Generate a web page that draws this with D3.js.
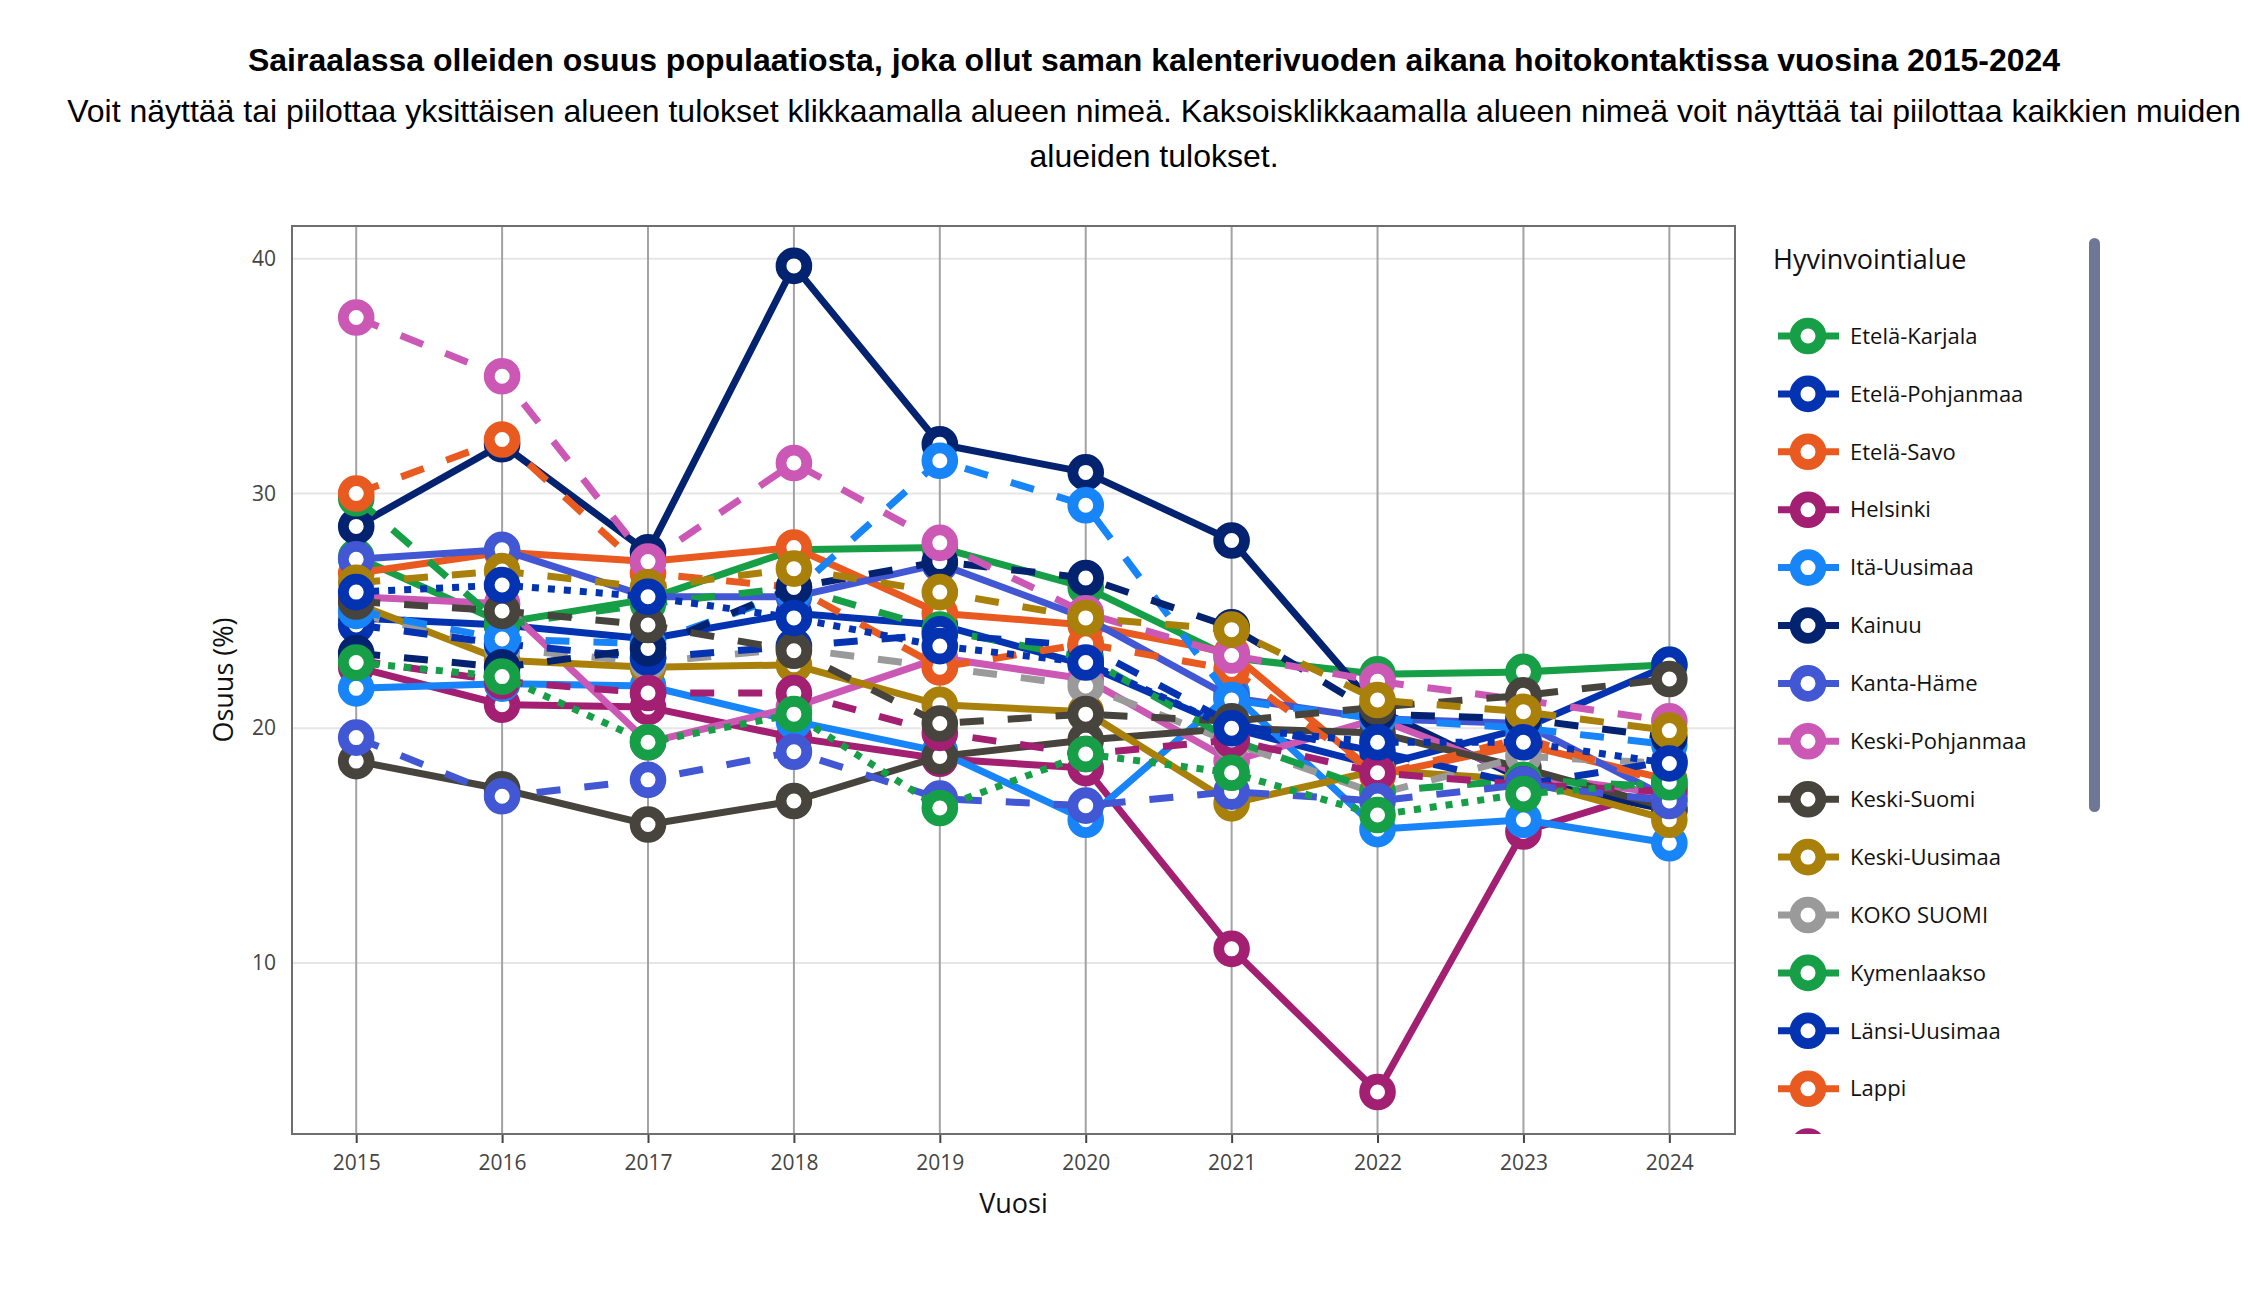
<!DOCTYPE html>
<html lang="fi">
<head>
<meta charset="UTF-8">
<title>Sairaalassa olleiden osuus populaatiosta</title>
<script src="https://d3js.org/d3.v7.min.js"></script>
<style>
  body { margin: 0; background: #fff; }
  svg text { font-family: "Open Sans", "Noto Sans", sans-serif; }
</style>
</head>
<body>
<svg width="2262" height="1302"></svg>
<script>
// years on the x axis
const years = [2015, 2016, 2017, 2018, 2019, 2020, 2021, 2022, 2023, 2024];
const yTicks = [10, 20, 30, 40];

// legend names, in legend order
const regionNames = [
  "Etelä-Karjala", "Etelä-Pohjanmaa", "Etelä-Savo", "Helsinki", "Itä-Uusimaa",
  "Kainuu", "Kanta-Häme", "Keski-Pohjanmaa", "Keski-Suomi", "Keski-Uusimaa",
  "KOKO SUOMI", "Kymenlaakso", "Länsi-Uusimaa", "Lappi", "Päijät-Häme",
  "Pirkanmaa", "Pohjanmaa", "Pohjois-Karjala", "Pohjois-Pohjanmaa", "Pohjois-Savo",
  "Satakunta", "Vantaa-Kerava", "Varsinais-Suomi"
];

// osuus (%) per year
const etelaKarjala     = [27.3, 24.5, 25.5, 27.6, 27.7, 26.0, 23.0, 22.3, 22.4, 22.7];
const etelaPohjanmaa   = [24.7, 24.4, 23.8, 24.9, 24.4, 22.7, 20.0, 18.4, 20.0, 22.7];
const etelaSavo        = [26.6, 27.5, 27.1, 27.7, 24.9, 24.4, 23.2, 18.0, 19.3, 17.8];
const helsinki         = [22.6, 21.0, 20.9, 19.6, 18.7, 18.3, 10.6, 4.5, 15.6, 17.5];
const itaUusimaa       = [21.7, 21.9, 21.8, 20.3, 19.0, 16.1, 21.5, 15.7, 16.1, 15.1];
const kainuu           = [28.6, 32.1, 27.5, 39.7, 32.1, 30.9, 28.0, 20.8, 17.8, 16.5];
const kantaHame        = [27.2, 27.6, 25.6, 25.6, 27.0, 24.7, 21.3, 20.4, 20.2, 17.0];
const keskiPohjanmaa   = [25.6, 25.3, 19.4, 20.9, 23.0, 22.1, 18.6, 20.4, 18.0, 17.2];
const keskiSuomi       = [18.6, 17.4, 15.9, 16.9, 18.8, 19.5, 20.0, 19.8, 18.3, 16.6];
const keskiUusimaa     = [25.3, 22.9, 22.6, 22.7, 21.0, 20.7, 16.8, 18.2, 17.8, 16.1];
const kokoSuomi        = [24.9, 23.4, 22.8, 23.4, 22.6, 21.8, 19.4, 17.2, 18.8, 18.5];
const kymenlaakso      = [29.8, 24.4, 25.3, 26.0, 24.2, 23.0, 19.5, 17.3, 17.8, 17.5];
const lansiUusimaa     = [24.4, 23.6, 23.0, 23.5, 24.0, 23.5, 20.2, 19.0, 17.6, 18.6];
const lappi            = [30.0, 32.3, 26.6, 26.0, 22.6, 23.6, 22.5, 18.0, 19.6, 17.6];
const paijatHame       = [22.9, 22.0, 21.5, 21.5, 19.8, 18.9, 19.5, 18.1, 17.6, 17.3];
const pirkanmaa        = [25.0, 23.8, 23.6, 25.8, 31.4, 29.5, 21.2, 20.4, 20.0, 19.3];
const pohjanmaa        = [23.2, 22.6, 23.4, 26.0, 27.1, 26.4, 24.3, 20.6, 20.4, 19.6];
const pohjoisKarjala   = [19.6, 17.1, 17.8, 19.0, 17.0, 16.7, 17.3, 16.9, 17.6, 16.9];
const pohjoisPohjanmaa = [37.5, 35.0, 27.1, 31.3, 27.9, 24.9, 23.1, 22.0, 21.2, 20.3];
const pohjoisSavo      = [25.4, 25.0, 24.4, 23.3, 20.2, 20.6, 20.3, 20.9, 21.4, 22.1];
const satakunta        = [26.2, 26.7, 26.0, 26.8, 25.8, 24.7, 24.2, 21.2, 20.7, 19.9];
const vantaaKerava     = [22.8, 22.2, 19.4, 20.6, 16.6, 18.9, 18.1, 16.3, 17.2, 17.7];
const varsinaisSuomi   = [25.8, 26.1, 25.6, 24.7, 23.5, 22.8, 20.0, 19.4, 19.4, 18.5];

const seriesValues = [
  etelaKarjala, etelaPohjanmaa, etelaSavo, helsinki, itaUusimaa,
  kainuu, kantaHame, keskiPohjanmaa, keskiSuomi, keskiUusimaa,
  kokoSuomi, kymenlaakso, lansiUusimaa, lappi, paijatHame,
  pirkanmaa, pohjanmaa, pohjoisKarjala, pohjoisPohjanmaa, pohjoisSavo,
  satakunta, vantaaKerava, varsinaisSuomi
];

// colours cycle over the regions, KOKO SUOMI is grey
const palette = ["#169f46", "#0433b2", "#e95a20", "#a21f72", "#1784f7",
                 "#032270", "#4257d4", "#cc58b5", "#47433d", "#a98009"];
const greyColour = "#9a9a9a";

function styleOf(i) {
  if (i === 10) return {color: greyColour, dash: "24,24"};
  if (i < 10) return {color: palette[i], dash: null};
  if (i < 21) return {color: palette[i - 11], dash: "24,24"};
  return {color: palette[i - 21], dash: "7,9"};
}

const width = 2262, height = 1302;
const plot = {left: 292, right: 1735, top: 226, bottom: 1134};

const svg = d3.select("svg");
svg.append("rect").attr("width", width).attr("height", height).attr("fill", "#fff");

const x = d3.scaleLinear().domain([2014.56, 2024.45]).range([plot.left, plot.right]);
const y = d3.scaleLinear().domain([2.71, 41.4]).range([plot.bottom, plot.top]);

// title
svg.append("text")
  .attr("x", 1154).attr("y", 71)
  .attr("text-anchor", "middle")
  .style("font-family", "'Liberation Sans', Arial, sans-serif")
  .style("font-weight", "bold")
  .style("font-size", "32px")
  .attr("fill", "#000")
  .text("Sairaalassa olleiden osuus populaatiosta, joka ollut saman kalenterivuoden aikana hoitokontaktissa vuosina 2015-2024");

const subLines = [
  "Voit näyttää tai piilottaa yksittäisen alueen tulokset klikkaamalla alueen nimeä. Kaksoisklikkaamalla alueen nimeä voit näyttää tai piilottaa kaikkien muiden",
  "alueiden tulokset."
];
subLines.forEach((t, i) => {
  svg.append("text")
    .attr("x", 1154).attr("y", 122 + i * 45)
    .attr("text-anchor", "middle")
    .style("font-family", "'Liberation Sans', Arial, sans-serif")
    .style("font-size", "32px")
    .attr("fill", "#000")
    .text(t);
});

// grid
const grid = svg.append("g");
grid.selectAll(".hgrid").data(yTicks).enter().append("line")
  .attr("x1", plot.left).attr("x2", plot.right)
  .attr("y1", d => y(d)).attr("y2", d => y(d))
  .attr("stroke", "#e6e6e6").attr("stroke-width", 2);
grid.selectAll(".vgrid").data(years).enter().append("line")
  .attr("x1", d => x(d)).attr("x2", d => x(d))
  .attr("y1", plot.top).attr("y2", plot.bottom)
  .attr("stroke", "#a3a3a3").attr("stroke-width", 2);

// axes
const xAxis = svg.append("g")
  .attr("transform", `translate(0,${plot.bottom})`)
  .call(d3.axisBottom(x).tickValues(years).tickFormat(d3.format("d")).tickSize(9).tickPadding(12));
xAxis.select(".domain").remove();
xAxis.selectAll("line").attr("stroke", "#444").attr("stroke-width", 2);
xAxis.selectAll("text").attr("fill", "#444").style("font-size", "21px");

const yAxis = svg.append("g")
  .attr("transform", `translate(${plot.left},0)`)
  .call(d3.axisLeft(y).tickValues(yTicks).tickSize(0).tickPadding(16));
yAxis.select(".domain").remove();
yAxis.selectAll("text").attr("fill", "#444").style("font-size", "21px");

svg.append("text")
  .attr("x", (plot.left + plot.right) / 2).attr("y", 1213)
  .attr("text-anchor", "middle")
  .style("font-size", "27px").attr("fill", "#111")
  .text("Vuosi");

svg.append("text")
  .attr("transform", `translate(233,${(plot.top + plot.bottom) / 2}) rotate(-90)`)
  .attr("text-anchor", "middle")
  .style("font-size", "27px").attr("fill", "#111")
  .text("Osuus (%)");

// lines and markers
svg.append("clipPath").attr("id", "plotClip").append("rect")
  .attr("x", plot.left).attr("y", plot.top)
  .attr("width", plot.right - plot.left).attr("height", plot.bottom - plot.top);

const line = d3.line().x((d, i) => x(years[i])).y(d => y(d));
const traces = svg.append("g").attr("clip-path", "url(#plotClip)");

seriesValues.forEach((vals, i) => {
  const st = styleOf(i);
  const g = traces.append("g");
  g.append("path")
    .datum(vals)
    .attr("d", line)
    .attr("fill", "none")
    .attr("stroke", st.color)
    .attr("stroke-width", 7)
    .attr("stroke-linejoin", "round")
    .attr("stroke-dasharray", st.dash);
  g.selectAll("circle").data(vals).enter().append("circle")
    .attr("cx", (d, j) => x(years[j]))
    .attr("cy", d => y(d))
    .attr("r", 12.9)
    .attr("fill", "#fff")
    .attr("stroke", st.color)
    .attr("stroke-width", 10.8);
});

// plot border
svg.append("rect")
  .attr("x", plot.left).attr("y", plot.top)
  .attr("width", plot.right - plot.left).attr("height", plot.bottom - plot.top)
  .attr("fill", "none").attr("stroke", "#6e6e6e").attr("stroke-width", 2);

// legend: scrolled view, only the top of the list fits in the box
const legendBottom = 1134;
svg.append("clipPath").attr("id", "legendClip").append("rect")
  .attr("x", 1745).attr("y", 226).attr("width", 400).attr("height", legendBottom - 226);

const legend = svg.append("g").attr("clip-path", "url(#legendClip)");
legend.append("text")
  .attr("x", 1773).attr("y", 269)
  .style("font-size", "27px").attr("fill", "#111")
  .text("Hyvinvointialue");

regionNames.forEach((name, i) => {
  const st = styleOf(i);
  const cy = 336 + i * 57.9;
  if (cy - 19 > legendBottom) return;   // hidden below the scroll box
  const item = legend.append("g");
  item.append("line")
    .attr("x1", 1778).attr("x2", 1839)
    .attr("y1", cy).attr("y2", cy)
    .attr("stroke", st.color).attr("stroke-width", 7)
    .attr("stroke-dasharray", st.dash);
  item.append("circle")
    .attr("cx", 1808).attr("cy", cy).attr("r", 12.9)
    .attr("fill", "#fff").attr("stroke", st.color).attr("stroke-width", 10.8);
  if (cy - 8 < legendBottom) {
    item.append("text")
      .attr("x", 1850).attr("y", cy)
      .attr("dy", "0.35em")
      .style("font-size", "22px").attr("fill", "#111")
      .text(name);
  }
});

// scrollbar
svg.append("rect")
  .attr("x", 2089).attr("y", 238).attr("width", 11).attr("height", 574)
  .attr("rx", 5.5).attr("fill", "#6e7793");
</script>
</body>
</html>
